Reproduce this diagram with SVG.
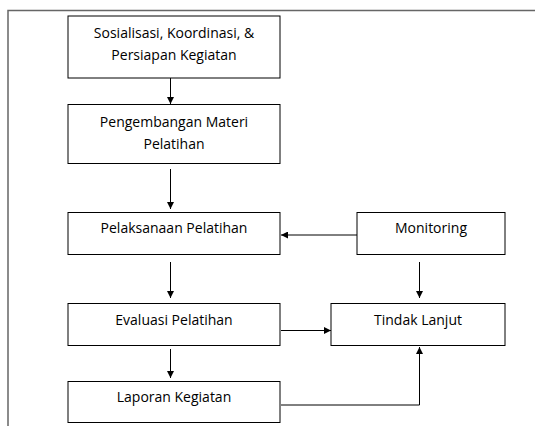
<svg xmlns="http://www.w3.org/2000/svg" width="535" height="426" viewBox="0 0 535 426">
<style>
.box{fill:#fff;stroke:#000;stroke-width:1}
.t{font-family:"Open Sans","Liberation Sans",sans-serif;font-size:14px;fill:#000;text-anchor:middle}
.c{fill:none;stroke:#000;stroke-width:1}
.frame{fill:none;stroke:#666;stroke-width:1.5}
</style>
<defs>
<marker id="ah" viewBox="0 0 10 10" refX="10" refY="5" markerWidth="7" markerHeight="7" markerUnits="userSpaceOnUse" orient="auto">
<path d="M0,0 L10,5 L0,10 z" fill="#000"/>
</marker>
</defs>
<path class="frame" d="M8,426 V10.5 H535"/>
<g id="n1"><rect class="box" x="68" y="16" width="212" height="62"/>
<text class="t" x="174" y="38">Sosialisasi, Koordinasi, &amp;</text>
<text class="t" x="174" y="59.5">Persiapan Kegiatan</text></g>
<g id="n2"><rect class="box" x="68" y="104.5" width="212" height="59"/>
<text class="t" x="174" y="127">Pengembangan Materi</text>
<text class="t" x="174" y="148.5">Pelatihan</text></g>
<g id="n3"><rect class="box" x="68" y="212.5" width="212" height="42"/>
<text class="t" x="174" y="233">Pelaksanaan Pelatihan</text></g>
<g id="n4"><rect class="box" x="357" y="212.5" width="148" height="42"/>
<text class="t" x="431" y="233">Monitoring</text></g>
<g id="n5"><rect class="box" x="68" y="303.5" width="212" height="42"/>
<text class="t" x="174" y="325">Evaluasi Pelatihan</text></g>
<g id="n6"><rect class="box" x="331" y="303.5" width="174" height="42"/>
<text class="t" x="418" y="325">Tindak Lanjut</text></g>
<g id="n7"><rect class="box" x="68" y="381.5" width="212" height="41"/>
<text class="t" x="174" y="402">Laporan Kegiatan</text></g>
<g id="connectors">
<path class="c" d="M170.5,78 V104" marker-end="url(#ah)"/>
<path class="c" d="M170.5,169 V209" marker-end="url(#ah)"/>
<path class="c" d="M357,235 H281" marker-end="url(#ah)"/>
<path class="c" d="M170.5,262 V298" marker-end="url(#ah)"/>
<path class="c" d="M419.5,262 V298" marker-end="url(#ah)"/>
<path class="c" d="M281,330.5 H331" marker-end="url(#ah)"/>
<path class="c" d="M170.5,349 V378" marker-end="url(#ah)"/>
<path class="c" d="M281,405 H419.5 V347" marker-end="url(#ah)"/>
</g>
</svg>
